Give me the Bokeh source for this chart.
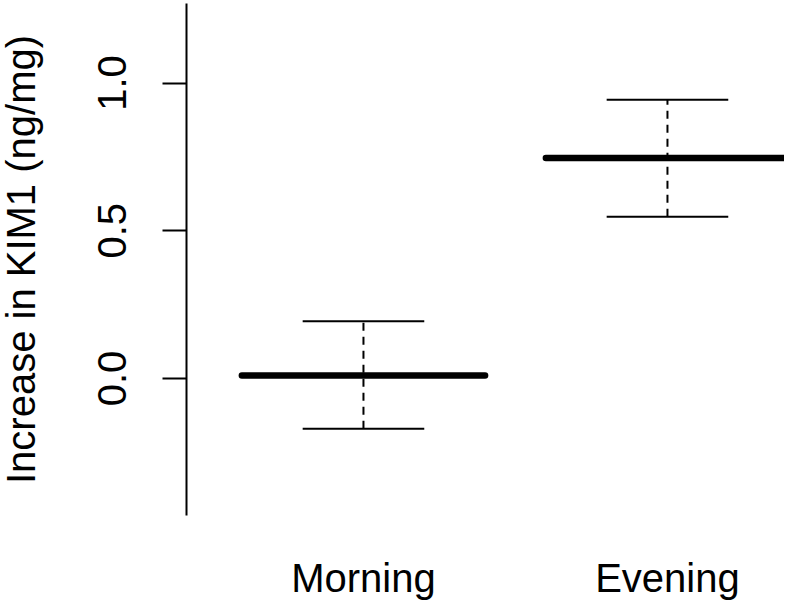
import numpy as np
from bokeh.plotting import figure
from bokeh.models import FixedTicker, ColumnDataSource, Range1d
from bokeh.embed import file_html
from bokeh.resources import INLINE

# ---- data ----
groups = ["Morning", "Evening"]
medians = [0.010, 0.746]
upper = [0.194, 0.943]
lower = [-0.170, 0.547]
y_ticks = [0.0, 0.5, 1.0]
y_tick_labels = ["0.0", "0.5", "1.0"]
y_title = "Increase in KIM1 (ng/mg)"

FONT = "Liberation Sans"
FS = "40px"

pos = np.arange(1, len(groups) + 1, dtype=float)
box_half = 0.4
staple_half = 0.2

# plotting window (R-style): axis extent and where the axes sit
y_axis_bounds = (-0.4636, 1.269)
x_axis_at = 0.4178

src = ColumnDataSource(dict(
    x=pos,
    med=medians,
    up=upper,
    lo=lower,
    x0b=pos - box_half, x1b=pos + box_half,
    x0s=pos - staple_half, x1s=pos + staple_half,
))

W, H = 784, 605
p = figure(width=W, height=H, output_backend="svg", toolbar_location=None,
           x_range=Range1d(-0.194, 2.385), y_range=Range1d(-0.7682, 1.2792),
           min_border=0)
p.outline_line_color = None
p.xgrid.visible = False
p.ygrid.visible = False
p.background_fill_color = "white"
p.border_fill_color = "white"

# whiskers (dashed)
p.segment(x0="x", y0="lo", x1="x", y1="up", source=src, line_color="black",
          line_width=2, line_dash="8 6")
# staples
p.segment(x0="x0s", y0="up", x1="x1s", y1="up", source=src, line_color="black", line_width=2)
p.segment(x0="x0s", y0="lo", x1="x1s", y1="lo", source=src, line_color="black", line_width=2)
# medians
p.segment(x0="x0b", y0="med", x1="x1b", y1="med", source=src, line_color="black",
          line_width=6.5, line_cap="round")

# y axis
ya = p.yaxis[0]
ya.fixed_location = x_axis_at
ya.bounds = y_axis_bounds
ya.ticker = FixedTicker(ticks=y_ticks)
ya.major_label_overrides = {t: l for t, l in zip(y_ticks, y_tick_labels)}
ya.major_label_orientation = "vertical"
ya.major_tick_out = 24
ya.major_tick_in = 0
ya.minor_tick_out = 0
ya.minor_tick_in = 0
ya.major_tick_line_width = 2
ya.axis_line_width = 2
ya.axis_line_color = "black"
ya.major_tick_line_color = "black"
ya.major_label_text_font = FONT
ya.major_label_text_font_size = FS
ya.major_label_text_color = "black"
ya.major_label_standoff = 36
ya.axis_label = y_title
ya.axis_label_text_font = FONT
ya.axis_label_text_font_size = FS
ya.axis_label_text_font_style = "normal"
ya.axis_label_text_color = "black"
ya.axis_label_standoff = 53

# x axis (labels only, no line in the original)
xa = p.xaxis[0]
xa.fixed_location = y_axis_bounds[0]
xa.ticker = FixedTicker(ticks=list(pos))
xa.major_label_overrides = {float(x): g for x, g in zip(pos, groups)}
xa.axis_line_color = None
xa.major_tick_line_color = None
xa.minor_tick_line_color = None
xa.major_tick_out = 0
xa.major_tick_in = 0
xa.major_label_text_font = FONT
xa.major_label_text_font_size = FS
xa.major_label_text_color = "black"
xa.major_label_standoff = 41

open("out.html", "w").write(file_html(p, INLINE))
